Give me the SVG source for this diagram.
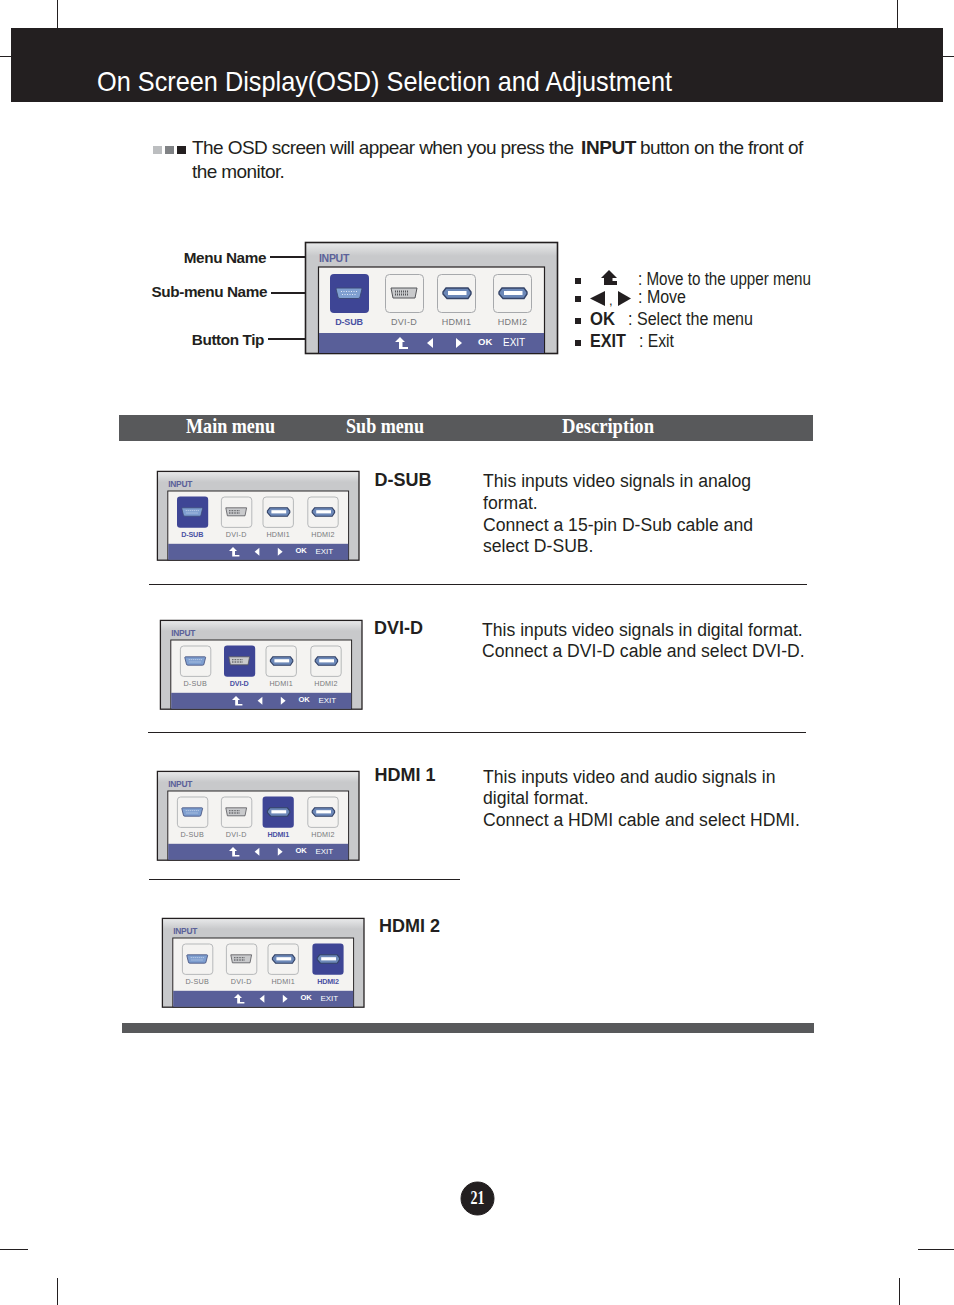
<svg xmlns="http://www.w3.org/2000/svg" width="954" height="1305" viewBox="0 0 954 1305">
<style>
text{font-family:"Liberation Sans",Arial,sans-serif;fill:#231f20}
.b{font-weight:700}
.body{font-size:17.6px}
.sub{font-size:18px;font-weight:700}
.lab{font-size:15.3px;font-weight:700;text-anchor:end;letter-spacing:-.4px}
.leg{font-size:18px}
.intro{font-size:19px;letter-spacing:-.58px}
.hd{font-family:"Liberation Serif",serif;font-size:20px;font-weight:700;fill:#fff}
.crop{stroke:#231f20;stroke-width:1;fill:none}
.lead{stroke:#231f20;stroke-width:2;fill:none}
.rule{stroke:#231f20;stroke-width:1;fill:none}
.tl{font-size:9px;text-anchor:middle;fill:#77787b;letter-spacing:.3px}
.on{fill:#4a51a3;font-weight:700;letter-spacing:-.2px}
.ttl{font-size:10.5px;font-weight:700;fill:#5b6199;letter-spacing:-.3px}
.bt{font-size:10px;fill:#fff}
</style>
<defs>
<linearGradient id="top" x1="0" y1="0" x2="0" y2="1"><stop offset="0" stop-color="#e9eaeb"/><stop offset=".12" stop-color="#c8c9cb"/></linearGradient>
<g id="conn-v"><path d="M1 5Q1 4 2 4H26Q27 4 27 5L25 13Q25 14.500 23 14.500H5Q3 14.500 3 13Z" fill="#7f9fd0" stroke="#3d4a78"/><path d="M6 7.500H22M7 10.500H21" stroke="#dfe7f5" stroke-width="1.200" stroke-dasharray="1 1.500"/></g>
<g id="conn-d"><path d="M1 4H27L25 14H3Z" fill="#c9cacc" stroke="#55565a"/><path d="M5 7.500H19M5 10.500H19" stroke="#55565a" stroke-width="1.800" stroke-dasharray="1 1"/></g>
<g id="conn-h"><path d="M3 3H25L28 7V9L25 13.500H4L0 9V7Z" fill="#6c88b8" stroke="#344367" stroke-width="1.400"/><rect x="5" y="6" width="18.500" height="4" fill="#fff"/></g>
<g id="tile"><rect x=".5" y=".5" width="38" height="38" rx="4" fill="#f4f3f1" stroke="#a7a9ac"/></g>
<g id="tile-on"><rect x="0" y="0" width="39" height="39" rx="4" fill="#3e4595"/></g>
<g id="osd">
<rect x=".5" y=".5" width="252" height="111" fill="url(#top)" stroke="#231f20" stroke-width="1.600"/>
<text class="ttl" x="14" y="20">INPUT</text>
<rect x="13.500" y="25" width="226" height="86" fill="#f4f3f1" stroke="#231f20" stroke-width="1.200"/>
<rect x="14" y="91" width="225" height="20" fill="#595f99"/>
<path d="M95 95L100 100H97.500V105H103V107H94V100H90Z" fill="#fff"/>
<path d="M128 96V106L122 101Z" fill="#fff"/><path d="M151 96V106L157 101Z" fill="#fff"/>
<text class="bt b" x="173" y="103" style="font-size:9.500px">OK</text><text class="bt" x="198" y="103.500">EXIT</text>
</g>
</defs>
<g id="crop-marks">
<path class="crop" d="M57.500 0V28M897.500 0V28M0 56.500H11M943 56.500H954M0 1249.500H28M918 1249.500H954M57.500 1278V1305M899.500 1278V1305"/>
</g>
<g id="header">
<rect x="11" y="28" width="932" height="74" fill="#231f20"/>
<text x="97" y="90.500" font-size="28" textLength="575" lengthAdjust="spacingAndGlyphs" style="fill:#fff">On Screen Display(OSD) Selection and Adjustment</text>
</g>
<g id="intro">
<rect x="153" y="146" width="9" height="8" fill="#bcbec0"/><rect x="165" y="146" width="9" height="8" fill="#808285"/><rect x="177" y="146" width="9" height="8" fill="#231f20"/>
<text class="intro" x="192" y="154">The OSD screen will appear when you press the</text>
<text class="intro b" x="581" y="154" style="letter-spacing:-.4px">INPUT</text>
<text class="intro" x="640" y="154">button on the front of</text>
<text class="intro" x="192" y="178">the monitor.</text>
</g>
<g id="osd-main">
<use href="#osd" x="305" y="242"/>
<use href="#tile-on" x="330" y="274"/><use href="#conn-v" x="335" y="284"/>
<use href="#tile" x="385" y="274"/><use href="#conn-d" x="390" y="284"/>
<use href="#tile" x="437" y="274"/><use href="#conn-h" x="443" y="285"/>
<use href="#tile" x="493" y="274"/><use href="#conn-h" x="499" y="285"/>
<text class="tl on" x="349" y="325">D-SUB</text><text class="tl" x="404" y="325">DVI-D</text><text class="tl" x="456.500" y="325">HDMI1</text><text class="tl" x="512.500" y="325">HDMI2</text>
</g>
<g id="labels">
<text class="lab" x="266" y="263">Menu Name</text>
<text class="lab" x="267" y="297">Sub-menu Name</text>
<text class="lab" x="264" y="345">Button Tip</text>
</g>
<g id="connectors">
<path class="lead" d="M270 257H305M271 293H305M268 339H305"/>
<path class="rule" d="M149 584.500H807M148 732.500H806M149 879.500H460"/>
</g>
<g id="legend">
<rect x="575" y="278" width="6" height="6" fill="#231f20"/><rect x="575" y="296" width="6" height="6" fill="#231f20"/><rect x="575" y="318" width="6" height="6" fill="#231f20"/><rect x="575" y="340" width="6" height="6" fill="#231f20"/>
<path d="M609 270L617 278H612.500V281H617V285H604V278H601Z" fill="#231f20"/>
<path d="M605 291V306L590 298.500Z" fill="#231f20"/><path d="M618 291V306L631 298.500Z" fill="#231f20"/>
<text x="609" y="305" font-size="13">,</text>
<text class="leg" x="638" y="285" textLength="173" lengthAdjust="spacingAndGlyphs">: Move to the upper menu</text>
<text class="leg" x="638" y="303" textLength="48" lengthAdjust="spacingAndGlyphs">: Move</text>
<text x="590" y="325" font-size="18" class="b" textLength="25" lengthAdjust="spacingAndGlyphs">OK</text><text class="leg" x="628" y="325" textLength="125" lengthAdjust="spacingAndGlyphs">: Select the menu</text>
<text x="590" y="347" font-size="18" class="b" textLength="36" lengthAdjust="spacingAndGlyphs">EXIT</text><text class="leg" x="639" y="347" textLength="35" lengthAdjust="spacingAndGlyphs">: Exit</text>
</g>
<g id="table-header">
<rect x="119" y="415" width="694" height="26" fill="#58595b"/>
<text class="hd" x="186" y="433" textLength="89" lengthAdjust="spacingAndGlyphs">Main menu</text><text class="hd" x="346" y="433" textLength="78" lengthAdjust="spacingAndGlyphs">Sub menu</text><text class="hd" x="562" y="433" textLength="92" lengthAdjust="spacingAndGlyphs">Description</text>
</g>
<g id="row-dsub">
<g transform="translate(157 471) scale(.8)"><use href="#osd"/>
<use href="#tile-on" x="25" y="32"/><use href="#conn-v" x="30" y="42"/><use href="#tile" x="80" y="32"/><use href="#conn-d" x="85" y="42"/><use href="#tile" x="132" y="32"/><use href="#conn-h" x="138" y="43"/><use href="#tile" x="188" y="32"/><use href="#conn-h" x="194" y="43"/>
<text class="tl on" x="44" y="83">D-SUB</text><text class="tl" x="99" y="83">DVI-D</text><text class="tl" x="151.500" y="83">HDMI1</text><text class="tl" x="207.500" y="83">HDMI2</text></g>
<text class="sub" x="374.500" y="486">D-SUB</text>
<text class="body" x="483" y="487">This inputs video signals in analog</text><text class="body" x="483" y="509">format.</text><text class="body" x="483" y="531">Connect a 15-pin D-Sub cable and</text><text class="body" x="483" y="552">select D-SUB.</text>
</g>
<g id="row-dvid">
<g transform="translate(160 620) scale(.8)"><use href="#osd"/>
<use href="#tile" x="25" y="32"/><use href="#conn-v" x="30" y="42"/><use href="#tile-on" x="80" y="32"/><use href="#conn-d" x="85" y="42"/><use href="#tile" x="132" y="32"/><use href="#conn-h" x="138" y="43"/><use href="#tile" x="188" y="32"/><use href="#conn-h" x="194" y="43"/>
<text class="tl" x="44" y="83">D-SUB</text><text class="tl on" x="99" y="83">DVI-D</text><text class="tl" x="151.500" y="83">HDMI1</text><text class="tl" x="207.500" y="83">HDMI2</text></g>
<text class="sub" x="374" y="634">DVI-D</text>
<text class="body" x="482" y="636">This inputs video signals in digital format.</text><text class="body" x="482" y="657">Connect a DVI-D cable and select DVI-D.</text>
</g>
<g id="row-hdmi1">
<g transform="translate(157 771) scale(.8)"><use href="#osd"/>
<use href="#tile" x="25" y="32"/><use href="#conn-v" x="30" y="42"/><use href="#tile" x="80" y="32"/><use href="#conn-d" x="85" y="42"/><use href="#tile-on" x="132" y="32"/><use href="#conn-h" x="138" y="43"/><use href="#tile" x="188" y="32"/><use href="#conn-h" x="194" y="43"/>
<text class="tl" x="44" y="83">D-SUB</text><text class="tl" x="99" y="83">DVI-D</text><text class="tl on" x="151.500" y="83">HDMI1</text><text class="tl" x="207.500" y="83">HDMI2</text></g>
<text class="sub" x="374.500" y="781">HDMI 1</text>
<text class="body" x="483" y="783">This inputs video and audio signals in</text><text class="body" x="483" y="804">digital format.</text><text class="body" x="483" y="826">Connect a HDMI cable and select HDMI.</text>
</g>
<g id="row-hdmi2">
<g transform="translate(162 918) scale(.8)"><use href="#osd"/>
<use href="#tile" x="25" y="32"/><use href="#conn-v" x="30" y="42"/><use href="#tile" x="80" y="32"/><use href="#conn-d" x="85" y="42"/><use href="#tile" x="132" y="32"/><use href="#conn-h" x="138" y="43"/><use href="#tile-on" x="188" y="32"/><use href="#conn-h" x="194" y="43"/>
<text class="tl" x="44" y="83">D-SUB</text><text class="tl" x="99" y="83">DVI-D</text><text class="tl" x="151.500" y="83">HDMI1</text><text class="tl on" x="207.500" y="83">HDMI2</text></g>
<text class="sub" x="379" y="932">HDMI 2</text>
</g>
<rect id="table-foot" x="122" y="1023" width="692" height="10" fill="#58595b"/>
<g id="page-number">
<circle cx="477.500" cy="1198.500" r="16.500" fill="#231f20" stroke="#231f20"/>
<text x="470.500" y="1204" font-size="18" textLength="14" lengthAdjust="spacingAndGlyphs" style="font-family:'Liberation Serif',serif;font-weight:700;fill:#fff">21</text>
</g>
</svg>
